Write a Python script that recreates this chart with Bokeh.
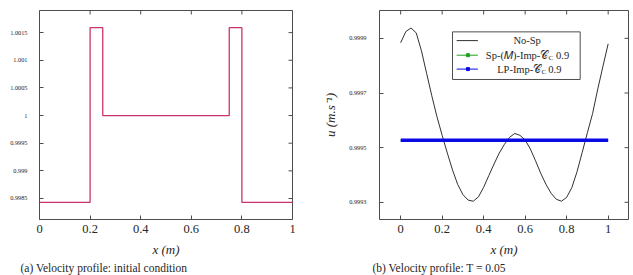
from bokeh.plotting import figure
from bokeh.layouts import row
from bokeh.models import Range1d, FixedTicker, Title
from bokeh.core.properties import value
from bokeh.embed import file_html
from bokeh.resources import INLINE
import math

SERIF = "Liberation Serif"

# ---- (a) initial velocity profile (piecewise constant) ----
init_x = [0.0, 0.2, 0.25, 0.75, 0.8, 1.0]
init_u = [0.99843, 1.00159, 1.0, 1.00159, 0.99843, 0.99843]
a_xticks = [0.0, 0.2, 0.4, 0.6, 0.8, 1.0]
a_xlabels = ["0", "0.2", "0.4", "0.6", "0.8", "1"]
a_yticks = [0.9985, 0.999, 0.9995, 1.0, 1.0005, 1.001, 1.0015]
a_ylabels = ["0.9985", "0.999", "0.9995", "1", "1.0005", "1.001", "1.0015"]

# ---- (b) velocity profile at T = 0.05 ----
b_x = [0.0, 0.025, 0.05, 0.075, 0.1, 0.125, 0.15, 0.175, 0.2, 0.225,
       0.25, 0.275, 0.3, 0.325, 0.35, 0.375, 0.4, 0.425, 0.45, 0.475,
       0.5, 0.525, 0.55, 0.575, 0.6, 0.625, 0.65, 0.675, 0.7, 0.725,
       0.75, 0.775, 0.8, 0.825, 0.85, 0.875, 0.9, 0.925, 0.95, 0.975, 1.0]
nosp_u = [0.999884, 0.999925, 0.999938, 0.999920, 0.999855, 0.999772, 0.999690,
          0.999613, 0.999545, 0.999480, 0.999418, 0.999365, 0.999328, 0.999308,
          0.999304, 0.999320, 0.999355, 0.999398, 0.999440, 0.999480, 0.999512,
          0.999538, 0.999552, 0.999545, 0.999528, 0.999495, 0.999452, 0.999406,
          0.999366, 0.999333, 0.999311, 0.999304, 0.999318, 0.999354, 0.999412,
          0.999483, 0.999555, 0.999625, 0.999715, 0.999798, 0.999880]
sp_x = [0.0, 1.0]
sp_u = [0.999527, 0.999527]
lp_x = [0.0, 1.0]
lp_u = [0.999527, 0.999527]
b_xticks = [0.0, 0.2, 0.4, 0.6, 0.8, 1.0]
b_xlabels = ["0", "0.2", "0.4", "0.6", "0.8", "1"]
b_yticks = [0.9993, 0.9995, 0.9997, 0.9999]
b_ylabels = ["0.9993", "0.9995", "0.9997", "0.9999"]

FRAME = "#4d4d4d"
TXT = "#262626"


def style_axes(p, xticks, xlabels, yticks, ylabels):
    p.xgrid.visible = False
    p.ygrid.visible = False
    p.outline_line_color = FRAME
    p.outline_line_width = 1
    p.background_fill_color = "white"
    p.border_fill_color = "white"
    for ax, ticks, labels in ((p.xaxis[0], xticks, xlabels), (p.yaxis[0], yticks, ylabels)):
        ax.ticker = FixedTicker(ticks=ticks)
        ax.major_label_overrides = {t: l for t, l in zip(ticks, labels)}
        ax.major_tick_in = 4
        ax.major_tick_out = 0
        ax.minor_tick_line_color = None
        ax.axis_line_color = None
        ax.major_tick_line_color = FRAME
        ax.major_label_text_font = SERIF
        ax.major_label_text_color = TXT
        ax.axis_label_text_font = SERIF
        ax.axis_label_text_font_style = "italic"
        ax.axis_label_text_color = TXT
        ax.axis_label_text_font_size = "13px"
    p.xaxis[0].major_label_text_font_size = "12.5px"
    p.xaxis[0].major_label_standoff = 5
    p.xaxis[0].axis_label = "x (m)"
    p.xaxis[0].axis_label_standoff = 6
    p.yaxis[0].major_label_text_font_size = "6.3px"
    p.yaxis[0].major_label_standoff = 12
    # mirrored tick marks on the top and right edges (half of each dash is
    # clipped away by the frame, leaving an inward tick)
    p.scatter(xticks, [p.y_range.end] * len(xticks), marker="dash", angle=math.pi / 2,
              size=8, line_color=FRAME, line_width=1)
    p.scatter([p.x_range.end] * len(yticks), yticks, marker="dash",
              size=8, line_color=FRAME, line_width=1)


def caption(p, text, offset):
    t = Title(text=text, align="left", offset=offset, standoff=0,
              text_font=SERIF, text_font_size="11.5px", text_font_style="normal",
              text_color=TXT)
    p.add_layout(t, "below")


# ---------- left panel ----------
p1 = figure(width=320, height=275, output_backend="svg", toolbar_location=None,
            x_range=Range1d(0.0, 1.0), y_range=Range1d(0.99812, 1.0019),
            min_border_left=39, min_border_right=28, min_border_top=10,
            min_border_bottom=56)
style_axes(p1, a_xticks, a_xlabels, a_yticks, a_ylabels)
p1.step(init_x, init_u, mode="after", line_color="#c8336e", line_width=1.3)
caption(p1, "(a) Velocity profile: initial condition", -19)

# ---------- right panel ----------
p2 = figure(width=313, height=275, output_backend="svg", toolbar_location=None,
            x_range=Range1d(-0.102, 1.098), y_range=Range1d(0.999237, 1.000002),
            min_border_left=50, min_border_right=5, min_border_top=4,
            min_border_bottom=56)
style_axes(p2, b_xticks, b_xlabels, b_yticks, b_ylabels)
p2.yaxis[0].major_label_standoff = 13
p2.yaxis[0].axis_label = "u (m.s\u207b\u00b9)"
p2.yaxis[0].axis_label_standoff = 8

# legend frame drawn first so the samples sit on top of it
p2.quad(left=[0.2498], right=[0.8651], top=[0.9999238], bottom=[0.9997495],
        fill_color="white", line_color=FRAME, line_width=1)

p2.line(b_x, nosp_u, line_color="#1a1a1a", line_width=0.9)
p2.line(sp_x, sp_u, line_color="#1fa01f", line_width=1.2)
p2.line(lp_x, lp_u, line_color="#0a0ae6", line_width=3.6)

# legend entries
rows_y = [0.9998918, 0.9998384, 0.9997875]
p2.line([0.2698, 0.3721], [rows_y[0]] * 2, line_color="#1a1a1a", line_width=0.9)
p2.line([0.2698, 0.3721], [rows_y[1]] * 2, line_color="#1fa01f", line_width=1)
p2.scatter([0.3242], [rows_y[1]], marker="square", size=3, color="#1fa01f")
p2.line([0.2698, 0.3721], [rows_y[2]] * 2, line_color="#0a0ae6", line_width=1)
p2.scatter([0.3242], [rows_y[2]], marker="square", size=3, color="#0a0ae6")

lf = dict(text_font=value(SERIF), text_font_size="10.5px", text_color=TXT,
          text_baseline="middle")
sf = dict(text_font=value(SERIF), text_font_size="7px", text_color=TXT,
          text_baseline="middle", y_offset=3)
p2.text([0.6093], [rows_y[0]], text=["No-Sp"], text_align="center", **lf)
p2.text([0.7116], [rows_y[1]], text=["Sp-(\U0001D440)-Imp-\U0001D49E"], text_align="right", **lf)
p2.text([0.7130], [rows_y[1]], text=["C"], text_align="left", **sf)
p2.text([0.7488], [rows_y[1]], text=["0.9"], text_align="left", **lf)
p2.text([0.6777], [rows_y[2]], text=["LP-Imp-\U0001D49E"], text_align="right", **lf)
p2.text([0.6791], [rows_y[2]], text=["C"], text_align="left", **sf)
p2.text([0.7116], [rows_y[2]], text=["0.9"], text_align="left", **lf)

caption(p2, "(b) Velocity profile: T = 0.05", -7)

layout = row(p1, p2)
open("out.html", "w").write(file_html(layout, INLINE))
